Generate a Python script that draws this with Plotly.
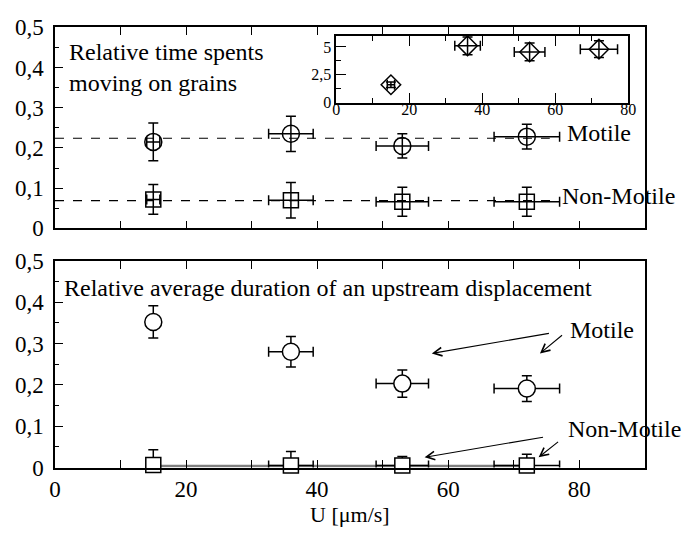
import plotly.graph_objects as go

# ---------------- data ----------------
u = [15, 36, 53, 72]
u_err = [1.0, 3.4, 4.0, 5.0]

top_motile = [0.215, 0.235, 0.205, 0.228]
top_motile_err = [0.047, 0.044, 0.030, 0.031]
top_nonmotile = [0.072, 0.070, 0.066, 0.066]
top_nonmotile_err = [0.037, 0.044, 0.036, 0.036]

motile_mean = 0.224
nonmotile_mean = 0.069
motile_mean_x = [0, 75.5]
nonmotile_mean_x = [0, 76.8]

bot_motile = [0.352, 0.280, 0.203, 0.191]
bot_motile_err = [0.039, 0.037, 0.033, 0.031]
bot_nonmotile = [0.006, 0.005, 0.005, 0.005]
bot_nonmotile_err = [0.037, 0.034, 0.022, 0.027]

inset_ratio = [1.6, 5.1, 4.55, 4.8]
inset_ratio_err = [0.25, 0.8, 0.8, 0.75]
inset_u_err = [1.0, 3.5, 4.2, 5.1]

y_ticks = [0, 0.1, 0.2, 0.3, 0.4, 0.5]
y_ticktext = ["0", "0,1", "0,2", "0,3", "0,4", "0,5"]
x_ticks = [0, 20, 40, 60, 80]
inset_y_ticks = [0, 2.5, 5]
inset_y_ticktext = ["0", "2,5", "5"]

# arrows (tail -> head) in bottom panel data coords
motile_arrows = [((75.6, 0.325), (57.5, 0.276)), ((77.6, 0.323), (74.0, 0.276))]
nonmotile_arrows = [((74.7, 0.074), (56.4, 0.025)), ((77.0, 0.065), (73.8, 0.025))]

FONT = "Liberation Serif"
BLACK = "black"

fig = go.Figure()


def errs(x, y, ex, ey, xa, ya, symbol, size, fill=None, eyminus=None):
    marker = dict(symbol=symbol, size=size, color=BLACK, line=dict(color=BLACK, width=1.5))
    if fill is not None:
        marker = dict(symbol=symbol, size=size, color=fill, line=dict(color=BLACK, width=1.5))
    ey_d = dict(type="data", array=ey, color=BLACK, thickness=1.5, width=5)
    if eyminus is not None:
        ey_d["symmetric"] = False
        ey_d["arrayminus"] = eyminus
    return go.Scatter(
        x=x, y=y, xaxis=xa, yaxis=ya, mode="markers", marker=marker,
        error_x=dict(type="data", array=ex, color=BLACK, thickness=1.5, width=5),
        error_y=ey_d, showlegend=False, cliponaxis=False,
    )


# top panel
fig.add_trace(go.Scatter(x=motile_mean_x, y=[motile_mean] * 2, mode="lines",
                         line=dict(color=BLACK, width=1.2, dash="dash"), xaxis="x", yaxis="y", showlegend=False))
fig.add_trace(go.Scatter(x=nonmotile_mean_x, y=[nonmotile_mean] * 2, mode="lines",
                         line=dict(color=BLACK, width=1.2, dash="dash"), xaxis="x", yaxis="y", showlegend=False))
fig.add_trace(errs(u, top_motile, u_err, top_motile_err, "x", "y", "circle-open", 17))
fig.add_trace(errs(u, top_nonmotile, u_err, top_nonmotile_err, "x", "y", "square-open", 15))

# bottom panel
fig.add_trace(go.Scatter(x=[u[0], u[-1]], y=[0.004, 0.004], mode="lines",
                         line=dict(color="gray", width=2.5), xaxis="x2", yaxis="y2", showlegend=False))
fig.add_trace(errs(u, bot_motile, u_err, bot_motile_err, "x2", "y2", "circle", 17, fill="white"))
fig.add_trace(errs(u, bot_nonmotile, u_err, bot_nonmotile_err, "x2", "y2", "square", 15, fill="white",
                   eyminus=[0, 0, 0, 0]))

# inset
fig.add_trace(errs(u, inset_ratio, inset_u_err, inset_ratio_err, "x3", "y3", "diamond-open", 15))

axis_common = dict(showgrid=False, zeroline=False, showline=True, linecolor=BLACK, linewidth=1.5,
                   ticks="inside", tickcolor=BLACK, tickwidth=1.2,
                   tickfont=dict(family=FONT, size=23, color=BLACK))

XD = [50 / 691, 652 / 691]
fig.update_layout(
    width=691, height=533, margin=dict(l=0, r=0, t=0, b=0),
    paper_bgcolor="white", plot_bgcolor="white",
    font=dict(family=FONT, color=BLACK),
    xaxis=dict(axis_common, domain=XD, anchor="y", range=[0, 90], dtick=10, ticklen=8,
               showticklabels=False, mirror="ticks"),
    yaxis=dict(axis_common, domain=[1 - 227 / 533, 1 - 16 / 533], anchor="x", range=[0, 0.5],
               tickvals=y_ticks, ticktext=y_ticktext, ticklen=8, mirror=True, ticklabelstandoff=5,
               minor=dict(dtick=0.05, ticks="inside", ticklen=4, tickcolor=BLACK)),
    xaxis2=dict(axis_common, domain=XD, anchor="y2", range=[0, 90], tickvals=x_ticks, ticklen=8,
                mirror="ticks", minor=dict(dtick=10, ticks="inside", ticklen=8, tickcolor=BLACK),
                title=dict(text="U [μm/s]", font=dict(family=FONT, size=22, color=BLACK), standoff=0)),
    yaxis2=dict(axis_common, domain=[1 - 478 / 533, 1 - 261 / 533], anchor="x2", range=[0, 0.5],
                tickvals=y_ticks, ticktext=y_ticktext, ticklen=8, mirror=True, ticklabelstandoff=5,
                minor=dict(dtick=0.05, ticks="inside", ticklen=4, tickcolor=BLACK)),
    xaxis3=dict(axis_common, domain=[337 / 691, 635 / 691], anchor="y3", range=[0, 80],
                tickvals=x_ticks, ticklen=10, mirror="ticks", ticklabelstandoff=-8,
                tickfont=dict(family=FONT, size=16, color=BLACK),
                minor=dict(dtick=10, ticks="inside", ticklen=5, tickcolor=BLACK)),
    yaxis3=dict(axis_common, domain=[1 - 95 / 533, 1 - 25 / 533], anchor="x3", range=[0, 6],
                tickvals=inset_y_ticks, ticktext=inset_y_ticktext, ticklen=10, mirror=True,
                tickfont=dict(family=FONT, size=16, color=BLACK),
                minor=dict(dtick=1.25, ticks="inside", ticklen=5, tickcolor=BLACK)),
)

ann = []
tf = dict(family=FONT, size=24, color=BLACK)
ann.append(dict(x=1.9, y=0.40, xref="x", yref="y", text="Relative time spents<br>moving on grains",
                showarrow=False, xanchor="left", yanchor="middle", align="left", font=tf))
ann.append(dict(x=77.8, y=0.238, xref="x", yref="y", text="Motile", showarrow=False,
                xanchor="left", yanchor="middle", font=tf))
ann.append(dict(x=77.0, y=0.080, xref="x", yref="y", text="Non-Motile", showarrow=False,
                xanchor="left", yanchor="middle", font=tf))
ann.append(dict(x=71.5, y=-0.2, xref="x3", yref="y3", text="U", showarrow=False,
                xanchor="center", yanchor="top", font=dict(family=FONT, size=16, color=BLACK)))
ann.append(dict(x=1.0, y=0.435, xref="x2", yref="y2",
                text="Relative average duration of an upstream displacement",
                showarrow=False, xanchor="left", yanchor="middle", font=tf))
ann.append(dict(x=78.3, y=0.332, xref="x2", yref="y2", text="Motile", showarrow=False,
                xanchor="left", yanchor="middle", font=tf))
ann.append(dict(x=78.0, y=0.094, xref="x2", yref="y2", text="Non-Motile", showarrow=False,
                xanchor="left", yanchor="middle", font=tf))
for (tx, ty), (hx, hy) in motile_arrows + nonmotile_arrows:
    ann.append(dict(x=hx, y=hy, ax=tx, ay=ty, xref="x2", yref="y2", axref="x2", ayref="y2",
                    text="", showarrow=True, arrowhead=5, arrowsize=1.5, arrowwidth=1.1,
                    arrowcolor=BLACK))
fig.update_layout(annotations=ann)

fig.write_html("out.html")
